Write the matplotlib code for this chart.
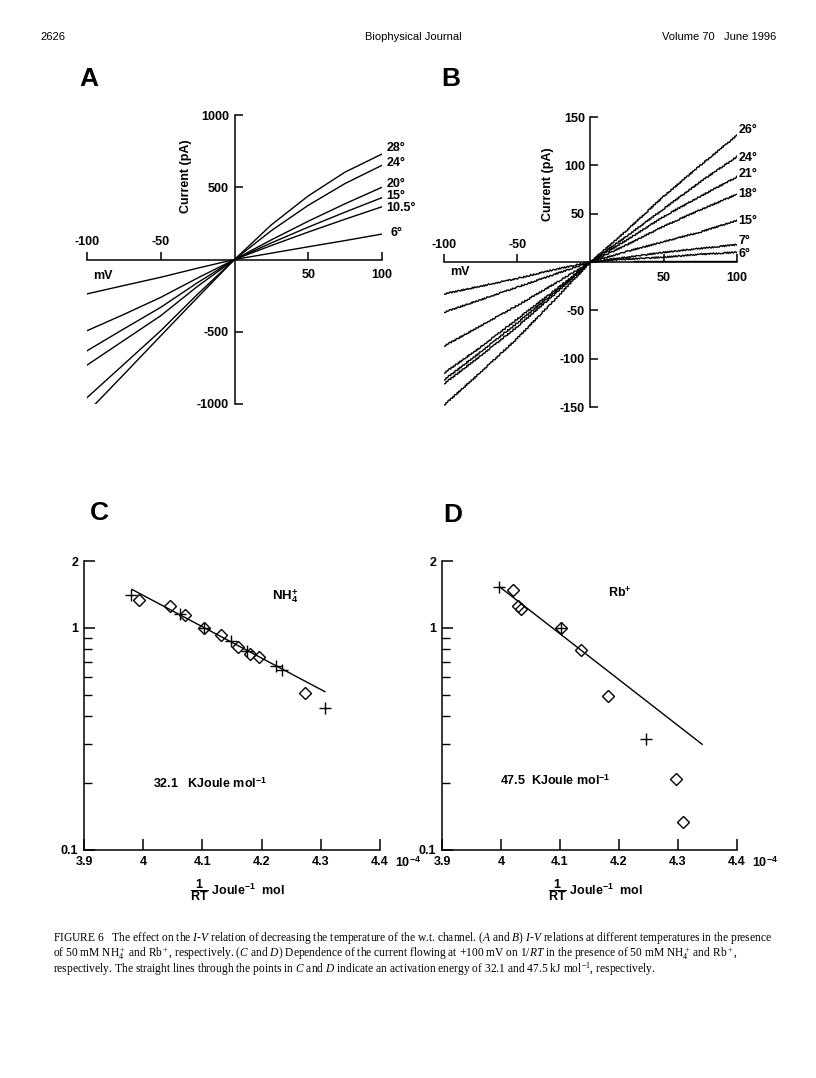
import matplotlib
matplotlib.use("Agg")
import matplotlib.pyplot as plt
from matplotlib.ticker import LogLocator, NullFormatter

plt.rcParams["font.family"] = ["Liberation Sans", "DejaVu Sans"]
plt.rcParams["font.weight"] = "bold"
plt.rcParams["mathtext.fontset"] = "custom"
plt.rcParams["mathtext.rm"] = "Liberation Serif:weight=normal"
plt.rcParams["mathtext.it"] = "Liberation Serif:style=italic:weight=normal"
plt.rcParams["mathtext.bf"] = "Liberation Sans:weight=bold"

W, H = 816, 1078

# I-V data (mV, pA)
VOLTAGES = [-100, -75, -50, -25, 0, 25, 50, 75, 100]

NH4_TEMPS = ["28°", "24°", "20°", "15°", "10.5°", "6°"]
NH4_28 = [-1060, -795, -528, -262, 0, 240, 440, 605, 730]
NH4_24 = [-956, -725, -493, -240, 0, 200, 375, 526, 652]
NH4_20 = [-731, -560, -389, -185, 0, 136, 265, 386, 500]
NH4_15 = [-632, -480, -331, -160, 0, 115, 224, 328, 428]
NH4_105 = [-493, -380, -262, -128, 0, 97, 190, 279, 365]
NH4_6 = [-238, -180, -123, -60, 0, 44, 88, 131, 176]
NH4_CURRENTS = [NH4_28, NH4_24, NH4_20, NH4_15, NH4_105, NH4_6]

RB_TEMPS = ["26°", "24°", "21°", "18°", "15°", "7°", "6°"]
RB_26 = [-148, -114, -79, -40, 0, 33, 68, 100, 131]
RB_24 = [-126, -97, -67, -34, 0, 27, 55, 83, 109]
RB_21 = [-122, -93, -63, -32, 0, 23, 47, 68, 88]
RB_18 = [-115, -88, -59, -30, 0, 18, 37, 54, 70]
RB_15 = [-87, -66, -45, -23, 0, 11, 21, 31, 43]
RB_7 = [-52, -39, -26, -13, 0, 5, 10, 14, 18]
RB_6 = [-33, -25, -17, -8, 0, 3, 5, 8, 10]
RB_CURRENTS = [RB_26, RB_24, RB_21, RB_18, RB_15, RB_7, RB_6]
RB_6_TAIL_V = [30, 100, 100]
RB_6_TAIL_I = [1.5, 1.5, 10]

# Arrhenius data (1/RT in 1e-4 mol/J, relative current)
NH4_CROSS_X = [3.979, 4.062, 4.102, 4.148, 4.175, 4.225, 4.235, 4.307]
NH4_CROSS_Y = [1.41, 1.15, 1.0, 0.877, 0.79, 0.674, 0.647, 0.435]
NH4_DIAM_X = [3.993, 4.046, 4.071, 4.102, 4.131, 4.16, 4.18, 4.196, 4.274]
NH4_DIAM_Y = [1.33, 1.26, 1.14, 1.0, 0.924, 0.824, 0.764, 0.743, 0.511]
NH4_FIT_X = [3.981, 4.307]
NH4_FIT_Y = [1.49, 0.516]

RB_CROSS_X = [3.996, 4.102, 4.246]
RB_CROSS_Y = [1.52, 1.0, 0.316]
RB_DIAM_X = [4.021, 4.028, 4.034, 4.102, 4.135, 4.181, 4.297, 4.308]
RB_DIAM_Y = [1.48, 1.26, 1.21, 1.0, 0.796, 0.494, 0.208, 0.133]
RB_FIT_X = [3.999, 4.341]
RB_FIT_Y = [1.52, 0.299]

INV_RT_TICKS = [3.9, 4.0, 4.1, 4.2, 4.3, 4.4]
INV_RT_LABELS = ["3.9", "4", "4.1", "4.2", "4.3", "4.4"]


def box(left, top, right, bottom):
    return [left / W, 1 - bottom / H, (right - left) / W, (bottom - top) / H]


fig = plt.figure(figsize=(W / 100, H / 100), dpi=100)


def iv_axes(rect, ymax, yticks):
    ax = fig.add_axes(rect)
    ax.patch.set_visible(False)
    ax.set_xlim(-100, 100)
    ax.set_ylim(-ymax, ymax)
    for s in ("top", "right"):
        ax.spines[s].set_visible(False)
    ax.spines["left"].set_position(("data", 0))
    ax.spines["bottom"].set_position(("data", 0))
    for s in ("left", "bottom"):
        ax.spines[s].set_linewidth(1.1)
    ax.set_xticks([-100, -50, 50, 100])
    ax.set_xticklabels([])
    ax.set_yticks(yticks)
    ax.set_yticklabels([str(t) for t in yticks])
    ax.tick_params(direction="in", length=6, width=1.1, labelsize=9)
    ax.tick_params(axis="y", pad=4)
    for v in (-100, -50):
        ax.annotate(str(v), (v, 0), xytext=(0, 8), textcoords="offset points",
                    ha="center", va="bottom", fontsize=9)
    for v in (50, 100):
        ax.annotate(str(v), (v, 0), xytext=(0, -7), textcoords="offset points",
                    ha="center", va="top", fontsize=9)
    return ax


# panel A
axA = iv_axes(box(87, 115, 382, 404), 1000, [1000, 500, -500, -1000])
for cur in NH4_CURRENTS:
    axA.plot(VOLTAGES, cur, color="black", lw=1.0)
tag_y = [771, 670, 523, 439, 358, 184]
for t, y in zip(NH4_TEMPS, tag_y):
    axA.text(103 if t != "6°" else 106, y, t, fontsize=9, ha="left", va="center",
             clip_on=False)
axA.text(-89, -111, "mV", fontsize=9, ha="center", va="center")
axA.text(-33, 580, "Current (pA)", rotation=90, fontsize=9, ha="center", va="center")

# panel B
axB = iv_axes(box(444, 117, 737, 407), 150, [150, 100, 50, -50, -100, -150])
for cur in RB_CURRENTS:
    ln, = axB.plot(VOLTAGES, cur, color="black", lw=1.0)
    ln.set_sketch_params(0.7, 3, 2)
axB.plot(RB_6_TAIL_V, RB_6_TAIL_I, color="black", lw=1.0)
tag_y = [136.5, 108, 91, 70, 42.6, 22, 8]
for t, y in zip(RB_TEMPS, tag_y):
    axB.text(101, y, t, fontsize=9, ha="left", va="center", clip_on=False)
axB.text(-89, -10.3, "mV", fontsize=9, ha="center", va="center")
axB.text(-29, 80, "Current (pA)", rotation=90, fontsize=9, ha="center", va="center")


def arrhenius_axes(rect):
    ax = fig.add_axes(rect)
    ax.patch.set_visible(False)
    ax.set_yscale("log")
    ax.set_xlim(3.9, 4.4)
    ax.set_ylim(0.1, 2)
    for s in ("top", "right"):
        ax.spines[s].set_visible(False)
    for s in ("left", "bottom"):
        ax.spines[s].set_linewidth(1.1)
    ax.set_xticks(INV_RT_TICKS)
    ax.set_xticklabels(INV_RT_LABELS)
    ax.set_yticks([0.1, 1, 2])
    ax.set_yticklabels(["0.1", "1", "2"])
    ax.yaxis.set_minor_locator(LogLocator(subs=range(2, 10)))
    ax.yaxis.set_minor_formatter(NullFormatter())
    ax.tick_params(direction="in", length=8, width=1.1, labelsize=9, pad=4)
    ax.tick_params(which="minor", direction="in", length=6, width=1.0)
    ax.text(1.05, -0.045, r"10$^{\mathbf{-4}}$", transform=ax.transAxes,
            fontsize=9, ha="left", va="center")
    ax.text(0.358, -0.138, r"$\dfrac{\mathbf{1}}{\mathbf{RT}}$ Joule$^{\mathbf{-1}}$  mol",
            transform=ax.transAxes, fontsize=9, ha="left", va="center")
    return ax


def scatter_panel(ax, cx, cy, dx, dy, fx, fy):
    ax.plot(fx, fy, color="black", lw=1.0)
    ax.plot(dx, dy, ls="none", marker="D", ms=6.5, mfc="none", mec="black", mew=1.0)
    ax.plot(cx, cy, ls="none", marker="+", ms=9, mec="black", mew=1.0)


axC = arrhenius_axes(box(84, 561, 380, 850))
scatter_panel(axC, NH4_CROSS_X, NH4_CROSS_Y, NH4_DIAM_X, NH4_DIAM_Y, NH4_FIT_X, NH4_FIT_Y)
axC.text(4.217, 1.38, r"NH$_\mathbf{4}^\mathbf{+}$", fontsize=9.5, ha="left", va="center")
axC.text(4.016, 0.198, r"32.1   KJoule mol$^{\mathbf{-1}}$", fontsize=9, ha="left", va="center")

axD = arrhenius_axes(box(442, 561, 737, 850))
scatter_panel(axD, RB_CROSS_X, RB_CROSS_Y, RB_DIAM_X, RB_DIAM_Y, RB_FIT_X, RB_FIT_Y)
axD.text(4.181, 1.44, r"Rb$^\mathbf{+}$", fontsize=9, ha="left", va="center")
axD.text(3.998, 0.205, r"47.5  KJoule mol$^{\mathbf{-1}}$", fontsize=9, ha="left", va="center")

# panel letters
for letter, x, y in (("A", 89, 79), ("B", 451, 79), ("C", 99, 513), ("D", 453, 515)):
    fig.text(x / W, 1 - y / H, letter, fontsize=19, fontweight="heavy",
             ha="center", va="center")

# running header
fig.text(40 / W, 1 - 37 / H, "2626", fontsize=8, fontweight="normal", va="center")
fig.text(413 / W, 1 - 37 / H, "Biophysical Journal", fontsize=8, fontweight="normal",
         ha="center", va="center")
fig.text(776 / W, 1 - 37 / H, "Volume 70   June 1996", fontsize=8, fontweight="normal",
         ha="right", va="center")

# caption
caption = [
    r"FIGURE 6   The effect on the $\mathit{I}$-$\mathit{V}$ relation of decreasing the temperature of the w.t. channel. ($\mathit{A}$ and $\mathit{B}$) $\mathit{I}$-$\mathit{V}$ relations at different temperatures in the presence",
    r"of 50 mM NH$_4^+$ and Rb$^+$, respectively. ($\mathit{C}$ and $\mathit{D}$) Dependence of the current flowing at +100 mV on 1/$\mathit{RT}$ in the presence of 50 mM NH$_4^+$ and Rb$^+$,",
    r"respectively. The straight lines through the points in $\mathit{C}$ and $\mathit{D}$ indicate an activation energy of 32.1 and 47.5 kJ mol$^{-1}$, respectively.",
]
cap_texts = []
for i, line in enumerate(caption):
    t = fig.text(53 / W, 1 - (938 + 15.5 * i) / H, line, fontsize=8, fontweight="normal",
                 family="Liberation Serif", va="center", ha="left")
    cap_texts.append(t)
renderer = fig.canvas.get_renderer()
w0 = cap_texts[0].get_window_extent(renderer).width
size = 8 * (776 - 53) / w0
for t in cap_texts:
    t.set_fontsize(size)

fig.savefig("out.png", dpi=100, facecolor="white")
